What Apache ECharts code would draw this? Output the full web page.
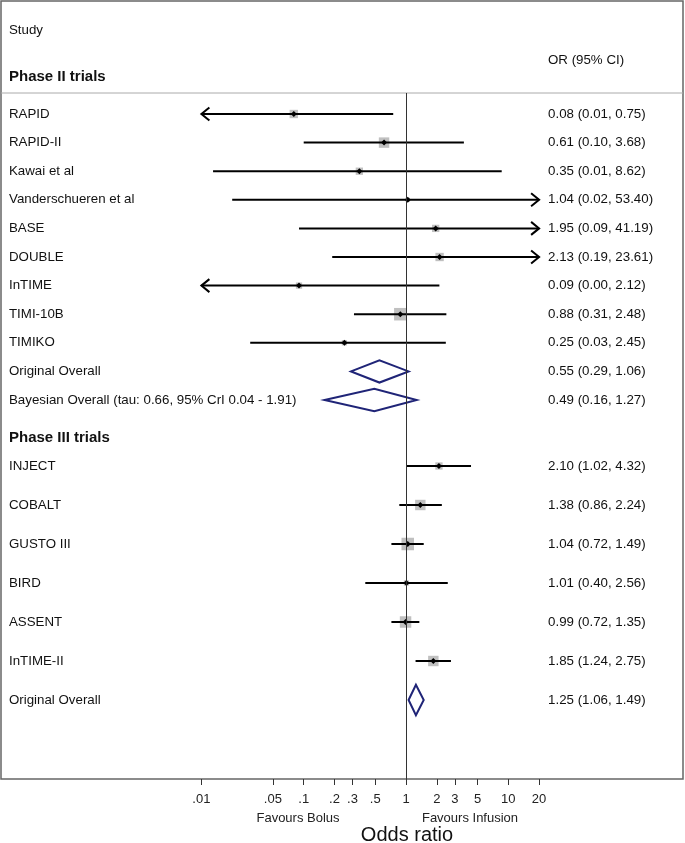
<!DOCTYPE html>
<html lang="en">
<head>
    <meta charset="UTF-8">
    <title>Forest plot - odds ratio</title>
    <script src="https://cdn.jsdelivr.net/npm/echarts@6/dist/echarts.min.js"></script>
    <style>
        html, body { margin: 0; padding: 0; background: #fff; }
        #chart { width: 685px; height: 843px; }
    </style>
</head>
<body>
<div id="chart"></div>
<script>
    // Phase II trials (last two rows are pooled estimates)
    const phase2Studies = ['RAPID', 'RAPID-II', 'Kawai et al', 'Vanderschueren et al', 'BASE', 'DOUBLE',
        'InTIME', 'TIMI-10B', 'TIMIKO', 'Original Overall', 'Bayesian Overall (tau: 0.66, 95% CrI 0.04 - 1.91)'];
    const phase2OR = [0.08, 0.61, 0.35, 1.04, 1.95, 2.13, 0.09, 0.88, 0.25, 0.55, 0.49];
    const phase2Low = [0.008, 0.10, 0.013, 0.02, 0.09, 0.19, 0.004, 0.31, 0.03, 0.29, 0.16];
    const phase2High = [0.75, 3.68, 8.62, 53.40, 41.19, 23.61, 2.12, 2.48, 2.45, 1.06, 1.27];
    const phase2Weight = [6.4, 10, 4.9, 1.6, 4.9, 6.4, 3.6, 14.4, 2.5, null, null];

    // Phase III trials (last row is pooled)
    const phase3Studies = ['INJECT', 'COBALT', 'GUSTO III', 'BIRD', 'ASSENT', 'InTIME-II', 'Original Overall'];
    const phase3OR = [2.10, 1.38, 1.04, 1.01, 0.99, 1.85, 1.25];
    const phase3Low = [1.02, 0.86, 0.72, 0.40, 0.72, 1.24, 1.06];
    const phase3High = [4.32, 2.24, 1.49, 2.56, 1.35, 2.75, 1.49];
    const phase3Weight = [4.9, 10, 14.4, 2.5, 12.1, 10, null];

    // x axis (odds ratio, log scale)
    const tickValues = [0.01, 0.05, 0.1, 0.2, 0.3, 0.5, 1, 2, 3, 5, 10, 20];
    const tickLabels = ['.01', '.05', '.1', '.2', '.3', '.5', '1', '2', '3', '5', '10', '20'];
    const axisMinOR = 0.01;
    const axisMaxOR = 20;
    const nullEffect = 1;

    const lg = Math.log10;
    const lgMin = lg(axisMinOR);
    const lgMax = lg(axisMaxOR);
    const FONT = '"Liberation Sans", Arial, sans-serif';
    const diamondColor = '#1f2477';

    function ciText(or, lo, hi) {
        return or.toFixed(2) + ' (' + lo.toFixed(2) + ', ' + hi.toFixed(2) + ')';
    }

    function buildRows(or, lo, hi, w) {
        return or.map(function (v, i) {
            return [lg(v), i, lg(lo[i]), lg(hi[i]), w[i] == null ? 0 : w[i], w[i] == null ? 1 : 0];
        });
    }

    function renderRow(params, api) {
        const row = api.value(1);
        const mid = api.coord([api.value(0), row]);
        const y = mid[1];
        const band = api.size([0, 1])[1];
        const lo = api.value(2), hi = api.value(3);
        const left = api.coord([Math.max(lo, lgMin), row])[0];
        const right = api.coord([Math.min(hi, lgMax), row])[0];
        const children = [];
        if (api.value(5) === 1) {
            const h = band * 0.39;
            children.push({
                type: 'polygon',
                shape: {points: [[left, y], [mid[0], y - h], [right, y], [mid[0], y + h]]},
                style: {fill: 'none', stroke: diamondColor, lineWidth: 2}
            });
            return {type: 'group', children: children};
        }
        const s = Math.sqrt(api.value(4)) * 3.3;
        children.push({
            type: 'rect',
            shape: {x: mid[0] - s / 2, y: y - s / 2, width: s, height: s},
            style: {fill: '#c0c0c0'}
        });
        children.push({
            type: 'line',
            shape: {x1: left, y1: y, x2: right, y2: y},
            style: {stroke: '#000', lineWidth: 2}
        });
        if (lo < lgMin) {
            children.push({
                type: 'polyline',
                shape: {points: [[left + 8, y - 6.5], [left, y], [left + 8, y + 6.5]]},
                style: {stroke: '#000', lineWidth: 2, fill: 'none'}
            });
        }
        if (hi > lgMax) {
            children.push({
                type: 'polyline',
                shape: {points: [[right - 8, y - 6.5], [right, y], [right - 8, y + 6.5]]},
                style: {stroke: '#000', lineWidth: 2, fill: 'none'}
            });
        }
        // point estimate marker
        children.push({
            type: 'polygon',
            shape: {points: [[mid[0] - 3, y], [mid[0], y - 3], [mid[0] + 3, y], [mid[0], y + 3]]},
            style: {fill: '#000'}
        });
        return {type: 'group', children: children};
    }

    function studyAxis(grid, names) {
        return {
            gridIndex: grid, type: 'category', inverse: true, data: names,
            axisLine: {show: false}, axisTick: {show: false},
            axisLabel: {interval: 0, align: 'left', margin: 192.4, fontSize: 13.3, fontFamily: FONT, color: '#111'}
        };
    }

    function ciAxis(grid, texts) {
        return {
            gridIndex: grid, type: 'category', inverse: true, position: 'right', data: texts,
            axisLine: {show: false}, axisTick: {show: false},
            axisLabel: {interval: 0, align: 'left', margin: 9, fontSize: 13.3, fontFamily: FONT, color: '#111'}
        };
    }

    function hiddenX(grid) {
        return {gridIndex: grid, type: 'value', min: lgMin, max: lgMax, show: false};
    }

    const phase2Text = phase2OR.map(function (v, i) { return ciText(v, phase2Low[i], phase2High[i]); });
    const phase3Text = phase3OR.map(function (v, i) { return ciText(v, phase3Low[i], phase3High[i]); });

    const chart = echarts.init(document.getElementById('chart'), null, {renderer: 'canvas'});
    const plotLeft = 201.4, plotWidth = 337.7;

    chart.setOption({
        animation: false,
        backgroundColor: '#fff',
        textStyle: {fontFamily: FONT},
        grid: [
            {left: plotLeft, width: plotWidth, top: 93, height: 686},
            {left: plotLeft, width: plotWidth, top: 99.7, height: 314.6},
            {left: plotLeft, width: plotWidth, top: 446.5, height: 273}
        ],
        xAxis: [
            {
                gridIndex: 0, type: 'value', min: lgMin, max: lgMax,
                axisLine: {show: false},
                splitLine: {show: false},
                axisTick: {show: true, length: 6, customValues: tickValues.map(lg), lineStyle: {color: '#333'}},
                axisLabel: {
                    customValues: tickValues.map(lg), margin: 14, fontSize: 13, color: '#222', fontFamily: FONT,
                    formatter: function (v) {
                        let best = 0;
                        tickValues.forEach(function (t, i) {
                            if (Math.abs(lg(t) - v) < Math.abs(lg(tickValues[best]) - v)) best = i;
                        });
                        return tickLabels[best];
                    }
                }
            },
            hiddenX(1),
            hiddenX(2)
        ],
        yAxis: [
            {gridIndex: 0, type: 'value', min: 0, max: 1, show: false},
            studyAxis(1, phase2Studies),
            ciAxis(1, phase2Text),
            studyAxis(2, phase3Studies),
            ciAxis(2, phase3Text)
        ],
        series: [
            {
                type: 'line', xAxisIndex: 0, yAxisIndex: 0, data: [[lg(nullEffect), 0]],
                showSymbol: false, silent: true,
                markLine: {
                    symbol: 'none', silent: true, label: {show: false},
                    lineStyle: {color: '#333', width: 1, type: 'solid'},
                    data: [{xAxis: lg(nullEffect)}]
                }
            },
            {
                type: 'custom', xAxisIndex: 1, yAxisIndex: 1,
                renderItem: renderRow, data: buildRows(phase2OR, phase2Low, phase2High, phase2Weight), z: 3
            },
            {
                type: 'custom', xAxisIndex: 2, yAxisIndex: 3,
                renderItem: renderRow, data: buildRows(phase3OR, phase3Low, phase3High, phase3Weight), z: 3
            }
        ],
        graphic: [
            {type: 'rect', shape: {x: 1, y: 1, width: 682, height: 778}, style: {fill: 'none', stroke: '#666', lineWidth: 1.5}, silent: true},
            {type: 'line', shape: {x1: 1, y1: 93, x2: 683, y2: 93}, style: {stroke: '#aaa', lineWidth: 1}, silent: true},
            {type: 'text', left: 9, top: 24, style: {text: 'Study', font: '13.3px ' + FONT, fill: '#111'}},
            {type: 'text', left: 548, top: 54, style: {text: 'OR (95% CI)', font: '13.3px ' + FONT, fill: '#111'}},
            {type: 'text', left: 9, top: 69, style: {text: 'Phase II trials', font: 'bold 15px ' + FONT, fill: '#111'}},
            {type: 'text', left: 9, top: 430, style: {text: 'Phase III trials', font: 'bold 15px ' + FONT, fill: '#111'}},
            {type: 'text', x: 298, y: 818, style: {text: 'Favours Bolus', font: '13px ' + FONT, fill: '#222', align: 'center', verticalAlign: 'middle'}},
            {type: 'text', x: 470, y: 818, style: {text: 'Favours Infusion', font: '13px ' + FONT, fill: '#222', align: 'center', verticalAlign: 'middle'}},
            {type: 'text', x: 407, y: 835, style: {text: 'Odds ratio', font: '20px ' + FONT, fill: '#111', align: 'center', verticalAlign: 'middle'}}
        ]
    });
</script>
</body>
</html>
